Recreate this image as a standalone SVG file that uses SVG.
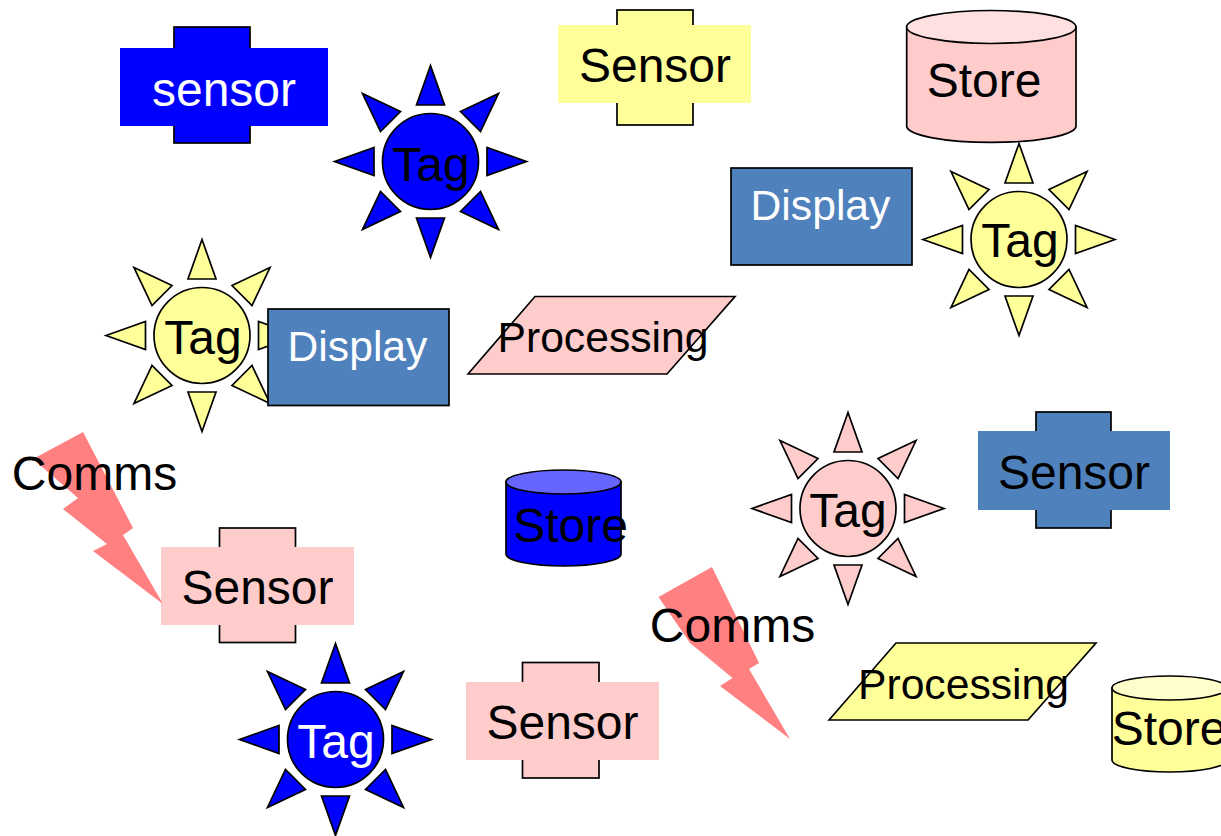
<svg xmlns="http://www.w3.org/2000/svg" xmlns:xlink="http://www.w3.org/1999/xlink" width="1221" height="836" viewBox="0 0 1221 836">
<style>
text{font-family:"Liberation Sans",Arial,sans-serif;font-size:48px;text-anchor:middle;fill:#000}
.s{font-size:42.67px}
.w{fill:#fff}
.ol{stroke:#000;stroke-width:1.7;stroke-linejoin:miter}
.blue{fill:#00f}.yellow{fill:#ff9}.pink{fill:#fcc}.steel{fill:#4f81bd}.bolt{fill:#ff8080}
.top-pink{fill:#ffe0e0}.top-blue{fill:#66f}.top-yellow{fill:#ffc}
</style>
<defs>
<g id="sun" class="ol">
<circle cx="0" cy="0" r="48"/>
<path d="M0-96L14-56.500H-14Z"/>
<path d="M0 96L14 56.500H-14Z"/>
<path d="M96 0L56.500-14V14Z"/>
<path d="M-96 0L-56.500-14V14Z"/>
<path d="M68-68L30-50L50-30Z"/>
<path d="M-68-68L-30-50L-50-30Z"/>
<path d="M68 68L30 50L50 30Z"/>
<path d="M-68 68L-30 50L-50 30Z"/>
</g>
</defs>
<g id="sensor-blue"><rect class="blue ol" x="174" y="27" width="76" height="116"/><rect class="blue" x="120" y="48" width="208" height="78"/><text class="w" x="224" y="105.500">sensor</text></g>
<g id="tag-blue-top"><use href="#sun" class="blue" x="430.500" y="161.500"/><text x="431" y="181">Tag</text></g>
<g id="sensor-yellow"><rect class="yellow ol" x="617" y="10" width="76" height="115"/><rect class="yellow" x="558" y="25" width="193" height="78"/><text x="655" y="82">Sensor</text></g>
<g id="store-pink"><path class="pink ol" d="M906.700 27V126.500A84.700 16.500 0 0 0 1076 126.500V27Z"/><ellipse class="top-pink ol" cx="991.300" cy="27" rx="84.700" ry="16.500"/><text x="984" y="97">Store</text></g>
<g id="tag-yellow-right"><use href="#sun" class="yellow" x="1019" y="239.500"/><text x="1020" y="257">Tag</text></g>
<g id="display-right"><rect class="steel ol" x="731" y="168" width="181" height="97"/><text class="s w" x="820.500" y="220">Display</text></g>
<g id="tag-yellow-left"><use href="#sun" class="yellow" x="202" y="335.500"/><text x="203" y="354">Tag</text></g>
<g id="display-left"><rect class="steel ol" x="268" y="309" width="181" height="96.500"/><text class="s w" x="357.500" y="360.500">Display</text></g>
<g id="processing-pink"><path class="pink ol" d="M468 374L535 296.500H735L667 374Z"/><text class="s" x="603" y="352">Processing</text></g>
<g id="sensor-steel"><rect class="steel ol" x="1036" y="412" width="75" height="116"/><rect class="steel" x="978" y="431" width="192" height="79"/><text x="1074" y="489">Sensor</text></g>
<g id="tag-pink"><use href="#sun" class="pink" x="848" y="508.500"/><text x="848" y="527">Tag</text></g>
<g id="store-blue"><path class="blue ol" d="M506 482V554A57.500 12 0 0 0 621 554V482Z"/><ellipse class="top-blue ol" cx="563.500" cy="482" rx="57.500" ry="12"/><text x="570.500" y="542">Store</text></g>
<g id="sensor-pink-left"><rect class="pink ol" x="219.500" y="528" width="76" height="114.500"/><rect class="pink" x="161" y="547" width="193" height="78"/><text x="257.500" y="604">Sensor</text></g>
<g id="comms-left"><path class="bolt" d="M83 432L33 459L78 498L63 509L107 544L93 551L163 604L123 535L133 528Z"/><text x="94.500" y="490">Comms</text></g>
<g id="tag-blue-bottom"><use href="#sun" class="blue" x="335.500" y="739.500"/><text class="w" x="336" y="758">Tag</text></g>
<g id="sensor-pink-bottom"><rect class="pink ol" x="522.500" y="662.500" width="76.500" height="115.500"/><rect class="pink" x="466" y="682" width="193" height="78"/><text x="562.500" y="739">Sensor</text></g>
<g id="comms-right"><path class="bolt" d="M712 567L658.500 597L690 643L732.600 678L720 686L790 739L749 669L759 663Z"/><text x="732.500" y="642">Comms</text></g>
<g id="processing-yellow"><path class="yellow ol" d="M829 720L896 643H1096L1028 720Z"/><text class="s" x="963.500" y="699">Processing</text></g>
<g id="store-yellow"><path class="yellow ol" d="M1112 688V760A57.500 12 0 0 0 1227 760V688Z"/><ellipse class="top-yellow ol" cx="1169.500" cy="688" rx="57.500" ry="12"/><text x="1169" y="745">Store</text></g>
</svg>
